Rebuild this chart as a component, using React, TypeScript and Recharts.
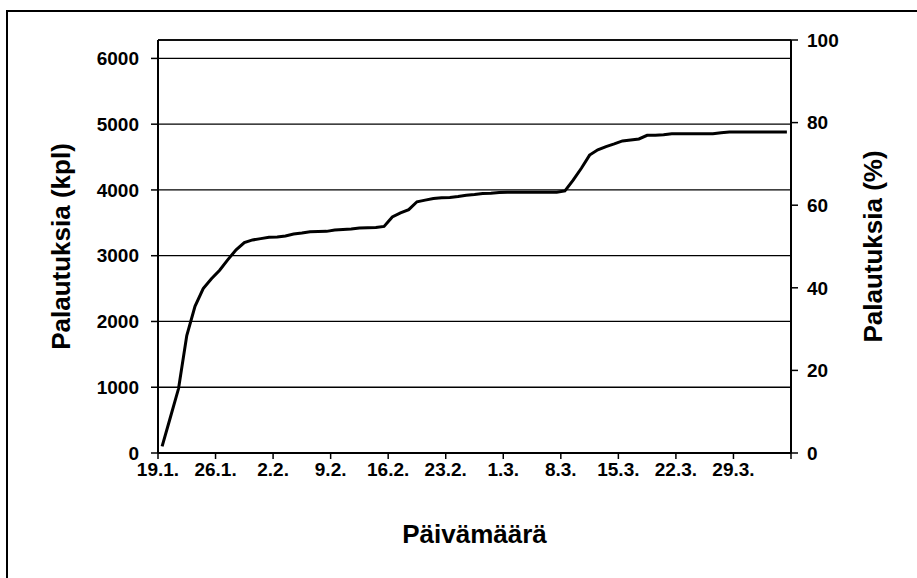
import { CartesianGrid, Line, LineChart, ReferenceLine, XAxis, YAxis } from "recharts";

// x-axis: day index from 19.1., one tick per week
const weekTicks = [0, 7, 14, 21, 28, 35, 42, 49, 56, 63, 70, 77];
const weekLabels = ["19.1.", "26.1.", "2.2.", "9.2.", "16.2.", "23.2.", "1.3.", "8.3.", "15.3.", "22.3.", "29.3.", ""];

const countTicks = [0, 1000, 2000, 3000, 4000, 5000, 6000];
const countMax = 6280; // = 100 %
const pctTicks = [0, 20, 40, 60, 80, 100];

// cumulative returns per day, 19.1. - 5.4.
const dailyCounts = [
	100, 540, 980, 1785, 2230, 2500, 2650, 2780, 2940, 3090, 3200, 3240,
	3260, 3280, 3285, 3300, 3330, 3345, 3365, 3368, 3370, 3390, 3400, 3405, 3420, 3425, 3430, 3445,
	3590, 3650, 3700, 3820, 3845,
	3870, 3880, 3885, 3900, 3920, 3930, 3945, 3950, 3960, 3965,
	3965, 3965, 3965, 3965, 3965, 3965,
	3985, 4150, 4330, 4530, 4610, 4660, 4700, 4745, 4760, 4775, 4830, 4830, 4840,
	4856, 4856, 4856, 4856, 4856, 4856,
	4870,
	4880, 4880, 4880, 4880, 4880, 4880, 4880, 4880,
];

// same series as share of all (secondary axis)
const data = dailyCounts.map((count, i) => ({ day: i + 0.5, count, pct: (count / countMax) * 100 }));

const font = { fontFamily: "'Liberation Sans', Arial, sans-serif", fontWeight: "bold" as const, fill: "#000" };

export default function App() {
	return (
		<div style={{ position: "fixed", left: 0, top: 0, width: 917, height: 578, overflow: "hidden", background: "#fff" }}>
			<div style={{ position: "absolute", left: 6, top: 10, width: 1000, height: 1000, border: "2px solid #000" }} />
			<div style={{ position: "absolute", left: 0, top: 0 }}>
				<LineChart width={917} height={578} data={data} margin={{ top: 40, right: 5, bottom: 5, left: 5 }}>
					<CartesianGrid yAxisId="count" vertical={false} stroke="#000" strokeWidth={1.3} />
					<ReferenceLine yAxisId="count" y={countMax} stroke="#000" strokeWidth={1.3} />
					<XAxis
						dataKey="day"
						type="number"
						domain={[0, 77]}
						ticks={weekTicks}
						interval={0}
						height={120}
						tickSize={6}
						tickMargin={4}
						tickFormatter={(v: number) => weekLabels[weekTicks.indexOf(v)] ?? ""}
						tick={{ ...font, fontSize: 19 }}
						axisLine={{ stroke: "#000", strokeWidth: 2 }}
						tickLine={{ stroke: "#000", strokeWidth: 1.5 }}
						label={{ value: "Päivämäärä", position: "insideBottom", offset: 30, style: { ...font, fontSize: 26 } }}
					/>
					<YAxis
						yAxisId="count"
						orientation="left"
						type="number"
						domain={[0, countMax]}
						ticks={countTicks}
						interval={0}
						width={153}
						tickSize={7}
						tickMargin={12}
						tick={{ ...font, fontSize: 19 }}
						axisLine={{ stroke: "#000", strokeWidth: 2 }}
						tickLine={{ stroke: "#000", strokeWidth: 1.5 }}
						label={{ value: "Palautuksia (kpl)", angle: -90, position: "insideLeft", offset: 56, style: { ...font, fontSize: 26, textAnchor: "middle" } }}
					/>
					<YAxis
						yAxisId="pct"
						orientation="right"
						type="number"
						domain={[0, 100]}
						ticks={pctTicks}
						interval={0}
						width={121}
						tickSize={7}
						tickMargin={9}
						tick={{ ...font, fontSize: 19 }}
						axisLine={{ stroke: "#000", strokeWidth: 2 }}
						tickLine={{ stroke: "#000", strokeWidth: 1.5 }}
						label={{ value: "Palautuksia (%)", angle: -90, position: "insideRight", offset: 39, style: { ...font, fontSize: 26, textAnchor: "middle" } }}
					/>
					<Line yAxisId="pct" type="linear" dataKey="pct" stroke="none" dot={false} activeDot={false} isAnimationActive={false} />
					<Line
						yAxisId="count"
						type="linear"
						dataKey="count"
						stroke="#000"
						strokeWidth={3}
						dot={false}
						isAnimationActive={false}
					/>
				</LineChart>
			</div>
		</div>
	);
}
